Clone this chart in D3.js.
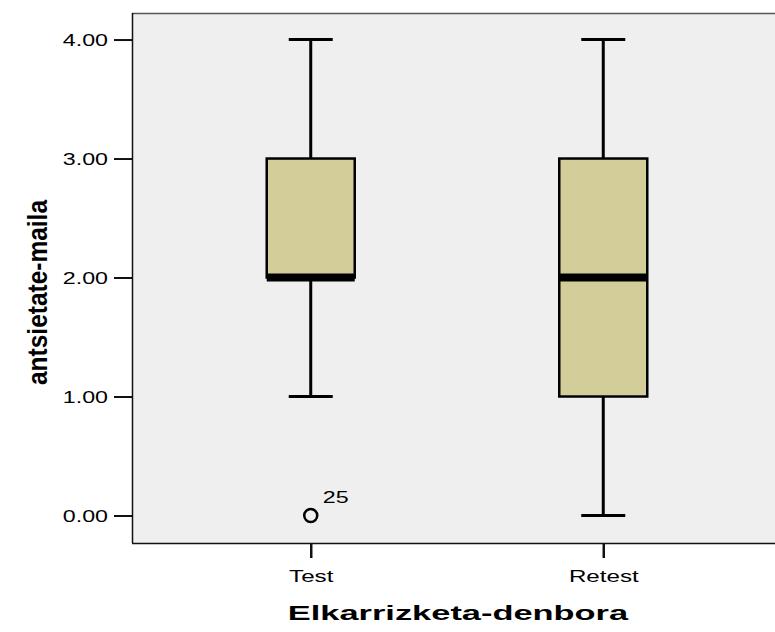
<!DOCTYPE html>
<html>
<head>
<meta charset="utf-8">
<script src="https://cdn.jsdelivr.net/npm/d3@7"></script>
<style>
  body { margin: 0; background: #fff; }
  text { font-family: Arial, "Liberation Sans", sans-serif; fill: #000; }
</style>
</head>
<body>
<svg width="775" height="632"></svg>
<script>
// data
const groups = ["Test", "Retest"];
const whiskerLow = [1, 0];
const quartile1 = [2, 1];
const medians = [2, 2];
const quartile3 = [3, 3];
const whiskerHigh = [4, 4];
const outlierGroup = ["Test"];
const outlierValue = [0];
const outlierCase = ["25"];
const yTicks = [0, 1, 2, 3, 4];

const svg = d3.select("svg");
const plotL = 132, plotT = 13, plotB = 543, plotR = 775;

const y = d3.scaleLinear().domain([-0.231, 4.223]).range([plotB, plotT]);
const x = d3.scalePoint().domain(groups).range([plotL, 782]).padding(0.611);

const boxW = 88, capW = 44;

// stretch text horizontally like the original export
function stretch(sel, factor) {
  sel.each(function () {
    const len = this.getComputedTextLength();
    d3.select(this).attr("textLength", len * factor).attr("lengthAdjust", "spacingAndGlyphs");
  });
}

// plot background + frame
svg.append("rect")
  .attr("x", plotL).attr("y", plotT)
  .attr("width", plotR - plotL).attr("height", plotB - plotT)
  .attr("fill", "#efefef");
svg.append("line")
  .attr("x1", plotL).attr("x2", plotR).attr("y1", plotT + 0.5).attr("y2", plotT + 0.5)
  .attr("stroke", "#555").attr("stroke-width", 1.5);

// y axis
const yAxis = svg.append("g")
  .attr("transform", `translate(${plotL},0)`)
  .call(d3.axisLeft(y).tickValues(yTicks).tickFormat(d3.format(".2f")).tickSize(18).tickPadding(6));
yAxis.select(".domain").attr("stroke", "#111").attr("stroke-width", 1.5)
  .attr("d", `M0.5,${plotT}V${plotB}`);
yAxis.selectAll(".tick line").attr("stroke", "#111").attr("stroke-width", 2);
yAxis.selectAll(".tick text").attr("font-size", 16).attr("font-family", "Arial, 'Liberation Sans', sans-serif")
  .attr("dy", "0.36em").call(stretch, 1.45);

// x axis
const xAxis = svg.append("g")
  .attr("transform", `translate(0,${plotB})`)
  .call(d3.axisBottom(x).tickSize(15).tickPadding(12));
xAxis.select(".domain").attr("stroke", "#111").attr("stroke-width", 1.5)
  .attr("d", `M${plotL},0.5H${plotR}`);
xAxis.selectAll(".tick line").attr("stroke", "#111").attr("stroke-width", 2.5);
xAxis.selectAll(".tick text").attr("font-size", 17).attr("font-family", "Arial, 'Liberation Sans', sans-serif")
  .call(stretch, 1.42);

// box plots
const stats = groups.map((g, i) => ({
  g: g, lo: whiskerLow[i], q1: quartile1[i], med: medians[i], q3: quartile3[i], hi: whiskerHigh[i]
}));

const boxG = svg.append("g").selectAll("g")
  .data(stats)
  .enter()
  .append("g")
  .attr("transform", d => `translate(${x(d.g)},0)`);

// whiskers
boxG.append("line")
  .attr("x1", 0).attr("x2", 0)
  .attr("y1", d => y(d.lo)).attr("y2", d => y(d.hi))
  .attr("stroke", "#000").attr("stroke-width", 3);
boxG.selectAll("line.cap")
  .data(d => [d.lo, d.hi])
  .enter()
  .append("line")
  .attr("class", "cap")
  .attr("x1", -capW / 2).attr("x2", capW / 2)
  .attr("y1", v => y(v)).attr("y2", v => y(v))
  .attr("stroke", "#000").attr("stroke-width", 3);

// box
boxG.append("rect")
  .attr("x", -boxW / 2)
  .attr("y", d => y(d.q3))
  .attr("width", boxW)
  .attr("height", d => y(d.q1) - y(d.q3))
  .attr("fill", "#d3ce99")
  .attr("stroke", "#000").attr("stroke-width", 2.5);

// median
boxG.append("line")
  .attr("x1", -boxW / 2).attr("x2", boxW / 2)
  .attr("y1", d => y(d.med)).attr("y2", d => y(d.med))
  .attr("stroke", "#000").attr("stroke-width", 8);

// outliers
const outG = svg.append("g").selectAll("g")
  .data(outlierValue.map((v, i) => ({ g: outlierGroup[i], v: v, c: outlierCase[i] })))
  .enter()
  .append("g");
outG.append("circle")
  .attr("cx", d => x(d.g)).attr("cy", d => y(d.v))
  .attr("r", 6.5)
  .attr("fill", "none").attr("stroke", "#000").attr("stroke-width", 2.5);
outG.append("text")
  .attr("x", d => x(d.g) + 12).attr("y", d => y(d.v) - 13)
  .attr("font-size", 16)
  .text(d => d.c)
  .call(stretch, 1.45);

// axis titles
svg.append("text")
  .attr("x", 458).attr("y", 620)
  .attr("text-anchor", "middle")
  .attr("font-size", 20).attr("font-weight", "bold")
  .text("Elkarrizketa-denbora")
  .call(stretch, 1.72);

svg.append("text")
  .attr("transform", "translate(47,292.5) scale(1.23,1) rotate(-90)")
  .attr("text-anchor", "middle")
  .attr("font-size", 23).attr("font-weight", "bold")
  .attr("textLength", 185).attr("lengthAdjust", "spacingAndGlyphs")
  .text("antsietate-maila");
</script>
</body>
</html>
